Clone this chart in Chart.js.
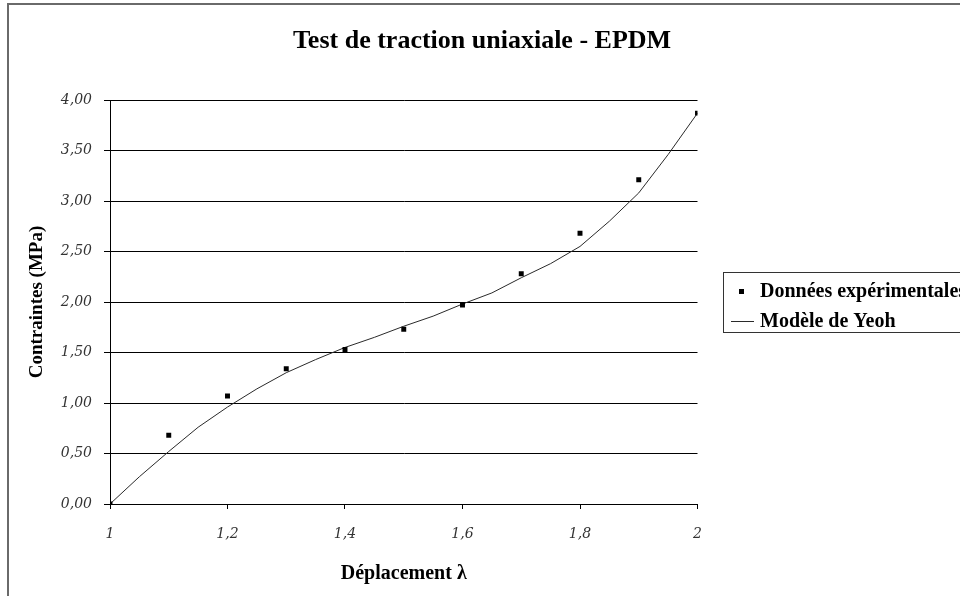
<!DOCTYPE html>
<html>
<head>
<meta charset="utf-8">
<script src="https://cdn.jsdelivr.net/npm/chart.js@4/dist/chart.umd.min.js"></script>
<style>
  html, body { margin: 0; padding: 0; background: #fff; }
  #wrap { width: 960px; height: 596px; position: relative; }
</style>
</head>
<body>
<div id="wrap"><canvas id="c"></canvas></div>
<script>
// ---- data ----
const chartTitle = 'Test de traction uniaxiale - EPDM';
const xAxisTitle = 'Déplacement λ';
const yAxisTitle = 'Contraintes (MPa)';
const seriesNames = ['Données expérimentales', 'Modèle de Yeoh'];

const expLambda = [1.0, 1.1, 1.2, 1.3, 1.4, 1.5, 1.6, 1.7, 1.8, 1.9, 2.0];
const expStress = [0.00, 0.68, 1.07, 1.34, 1.53, 1.73, 1.97, 2.28, 2.68, 3.21, 3.87];

const modelLambda = [1.00, 1.05, 1.10, 1.15, 1.20, 1.25, 1.30, 1.35, 1.40, 1.45, 1.50,
                     1.55, 1.60, 1.65, 1.70, 1.75, 1.80, 1.85, 1.90, 1.95, 2.00];
const modelStress = [0.00, 0.27, 0.52, 0.76, 0.96, 1.14, 1.30, 1.43, 1.55, 1.65, 1.76,
                     1.86, 1.98, 2.09, 2.24, 2.38, 2.55, 2.80, 3.08, 3.46, 3.87];

const xTickLabels = ['1', '1,2', '1,4', '1,6', '1,8', '2'];
const yTickLabels = ['0,00', '0,50', '1,00', '1,50', '2,00', '2,50', '3,00', '3,50', '4,00'];

// ---- build ----
const expPoints = expLambda.map((x, i) => ({ x: x, y: expStress[i] }));
const modelPoints = modelLambda.map((x, i) => ({ x: x, y: modelStress[i] }));

const serif = '"Liberation Serif", "Times New Roman", serif';
const tickFont = '"DejaVu Serif", serif';

const framePlugin = {
  id: 'frameTitleLegend',
  afterDraw(chart) {
    const ctx = chart.ctx;
    ctx.save();
    // outer chart frame (extends beyond the right/bottom edge of the picture)
    ctx.strokeStyle = '#6a6a6a';
    ctx.lineWidth = 2;
    ctx.strokeRect(8, 4, 1000, 700);

    // chart title, centred on the whole chart object
    ctx.fillStyle = '#000';
    ctx.font = 'bold 26px ' + serif;
    ctx.textAlign = 'center';
    ctx.textBaseline = 'middle';
    ctx.fillText(chartTitle, 482, 41);

    // legend box
    const lx = 723.5, ly = 272.5, lh = 60;
    ctx.fillStyle = '#fff';
    ctx.fillRect(lx, ly, 300, lh);
    ctx.strokeStyle = '#333';
    ctx.lineWidth = 1;
    ctx.strokeRect(lx, ly, 300, lh);

    ctx.font = 'bold 20px ' + serif;
    ctx.textBaseline = 'middle';
    ctx.textAlign = 'left';
    // item 1: square marker
    const ds0 = chart.data.datasets[0];
    ctx.fillStyle = ds0.pointBackgroundColor;
    ctx.fillRect(739, 289, 5, 5);
    ctx.fillStyle = '#000';
    ctx.fillText(ds0.label, 760, 292);
    // item 2: line
    const ds1 = chart.data.datasets[1];
    ctx.strokeStyle = ds1.borderColor;
    ctx.beginPath();
    ctx.moveTo(731, 321.5);
    ctx.lineTo(754, 321.5);
    ctx.stroke();
    ctx.fillText(ds1.label, 760, 322);
    ctx.restore();
  }
};

new Chart(document.getElementById('c'), {
  type: 'scatter',
  data: {
    datasets: [
      {
        label: seriesNames[0],
        data: expPoints,
        showLine: false,
        pointStyle: 'rect',
        pointRadius: 3.5,
        pointHoverRadius: 3.5,
        pointBackgroundColor: '#000',
        pointBorderColor: '#000',
        pointBorderWidth: 0,
        order: 0
      },
      {
        label: seriesNames[1],
        data: modelPoints,
        showLine: true,
        borderColor: '#2a2a2a',
        borderWidth: 1,
        pointRadius: 0,
        pointHoverRadius: 0,
        tension: 0,
        fill: false,
        order: 1
      }
    ]
  },
  options: {
    responsive: true,
    maintainAspectRatio: false,
    animation: false,
    layout: { padding: { left: 0, right: 262.5, top: 100, bottom: 0 } },
    plugins: {
      legend: { display: false },
      tooltip: { enabled: false },
      title: { display: false }
    },
    scales: {
      x: {
        type: 'linear',
        min: 1,
        max: 2,
        afterFit(scale) { scale.height = 92; },
        ticks: {
          stepSize: 0.2,
          color: '#333',
          font: { family: tickFont, size: 14, style: 'italic' },
          padding: 17,
          maxRotation: 0,
          callback: (v, i) => xTickLabels[i]
        },
        grid: { drawOnChartArea: false, drawTicks: true, tickLength: 5, color: '#000', lineWidth: 1 },
        border: { display: true, color: '#000', width: 1 },
        title: {
          display: true,
          text: xAxisTitle,
          color: '#000',
          font: { family: serif, size: 20, weight: 'bold', lineHeight: 1.2 },
          padding: { top: 0, bottom: 10 }
        }
      },
      y: {
        type: 'linear',
        min: 0,
        max: 4,
        afterFit(scale) { scale.width = 110; },
        ticks: {
          stepSize: 0.5,
          color: '#333',
          font: { family: tickFont, size: 14, style: 'italic' },
          padding: 12,
          callback: (v, i) => yTickLabels[i]
        },
        grid: { drawOnChartArea: true, drawTicks: true, tickLength: 6, color: '#000', lineWidth: 1 },
        border: { display: true, color: '#000', width: 1 },
        title: {
          display: true,
          text: yAxisTitle,
          color: '#000',
          font: { family: serif, size: 19, weight: 'bold', lineHeight: 1.2 },
          padding: { top: 26, bottom: 0 }
        }
      }
    }
  },
  plugins: [framePlugin]
});
</script>
</body>
</html>
